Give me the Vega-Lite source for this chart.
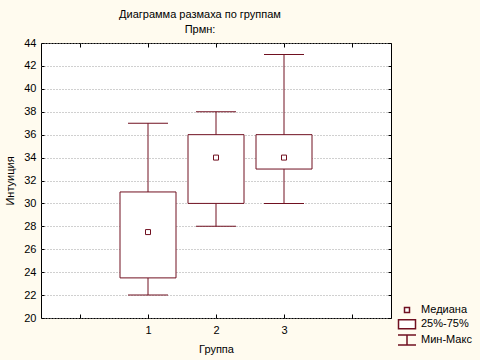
{
  "$schema": "https://vega.github.io/schema/vega-lite/v6.json",
  "width": 350,
  "height": 275,
  "autosize": {"type": "none"},
  "padding": {"left": 41, "top": 43, "right": 89, "bottom": 42},
  "background": "#fffbef",
  "config": {
    "font": "Liberation Sans",
    "view": {"fill": "white", "stroke": "black", "strokeWidth": 1},
    "axis": {"labelFont": "Liberation Sans", "titleFont": "Liberation Sans", "labelFontSize": 11, "titleFontSize": 11, "titleFontWeight": "normal", "labelColor": "black", "titleColor": "black", "domain": false, "tickColor": "black"}
  },
  "title": {
    "text": "Диаграмма размаха по группам",
    "subtitle": "Прмн:",
    "anchor": "middle",
    "dx": -16,
    "offset": 2,
    "fontSize": 11,
    "fontWeight": "normal",
    "subtitleFontSize": 11,
    "subtitleColor": "black",
    "color": "black",
    "subtitlePadding": 4,
    "font": "Liberation Sans",
    "subtitleFont": "Liberation Sans"
  },
  "data": {
    "values": [
      {"g": 1, "min": 22, "q1": 23.5, "med": 27.5, "q3": 31, "max": 37},
      {"g": 2, "min": 28, "q1": 30, "med": 34, "q3": 36, "max": 38},
      {"g": 3, "min": 30, "q1": 33, "med": 34, "q3": 36, "max": 43}
    ]
  },
  "layer": [
    {
      "mark": {"type": "rule", "color": "#701020", "strokeWidth": 1},
      "encoding": {
        "x": {"field": "g", "type": "quantitative", "scale": {"domain": [-0.5, 4.5], "nice": false, "zero": false},
          "axis": {"orient": "bottom", "title": "Группа", "values": [0, 1, 2, 3, 4], "labelExpr": "datum.value >= 1 && datum.value <= 3 ? datum.label : ''", "tickSize": -4, "labelPadding": 10, "titlePadding": 8, "grid": false}},
        "y": {"field": "min", "type": "quantitative", "scale": {"domain": [20, 44], "nice": false, "zero": false},
          "axis": {"orient": "left", "title": "Интуиция", "values": [20, 22, 24, 26, 28, 30, 32, 34, 36, 38, 40, 42, 44], "tickSize": -3, "labelPadding": 8, "titlePadding": 8, "grid": true, "gridColor": "#a0a0a0", "gridDash": [1, 2], "gridWidth": 1}},
        "y2": {"field": "max"}
      }
    },
    {
      "mark": {"type": "bar", "size": 56, "fill": "white", "stroke": "#701020", "strokeWidth": 1},
      "encoding": {
        "x": {"field": "g", "type": "quantitative", "axis": null},
        "y": {"field": "q1", "type": "quantitative", "axis": null},
        "y2": {"field": "q3"}
      }
    },
    {
      "mark": {"type": "tick", "orient": "horizontal", "size": 40, "thickness": 1, "color": "#701020", "opacity": 1},
      "encoding": {
        "x": {"field": "g", "type": "quantitative",
          "axis": {"orient": "top", "title": null, "values": [0, 1, 2, 3, 4], "labels": false, "tickSize": -4, "grid": false}},
        "y": {"field": "min", "type": "quantitative", "axis": null}
      }
    },
    {
      "mark": {"type": "tick", "orient": "horizontal", "size": 40, "thickness": 1, "color": "#701020", "opacity": 1},
      "encoding": {
        "x": {"field": "g", "type": "quantitative", "axis": null},
        "y": {"field": "max", "type": "quantitative",
          "axis": {"orient": "right", "title": null, "values": [20, 22, 24, 26, 28, 30, 32, 34, 36, 38, 40, 42, 44], "labels": false, "tickSize": -3, "grid": false}}
      }
    },
    {
      "mark": {"type": "point", "filled": true, "fill": "white", "stroke": "#701020", "strokeWidth": 1, "size": 100, "opacity": 1},
      "encoding": {
        "x": {"field": "g", "type": "quantitative", "axis": null},
        "y": {"field": "med", "type": "quantitative", "axis": null},
        "shape": {
          "datum": "Медиана",
          "type": "nominal",
          "scale": {
            "domain": ["Медиана", "25%-75%", "Мин-Макс"],
            "range": ["M-0.5,-0.5H0.5V0.5H-0.5Z", "M-1.7,-0.85H1.7V0.95H-1.7Z", "M-1.8,-1H1.8M0,-1V1M-1.8,1H1.8"]
          },
          "legend": {
            "title": null,
            "orient": "none",
            "legendX": 360,
            "legendY": 261,
            "padding": 0,
            "symbolSize": 100,
            "labelFont": "Liberation Sans",
            "labelFontSize": 11,
            "labelColor": "black",
            "labelOffset": 8,
            "rowPadding": 0,
            "encode": {
              "symbols": {
                "update": {
                  "stroke": {"value": "#701020"},
                  "fill": {"value": "white"},
                  "strokeWidth": {"value": 1},
                  "opacity": {"value": 1}
                }
              }
            }
          }
        }
      }
    }
  ]
}
